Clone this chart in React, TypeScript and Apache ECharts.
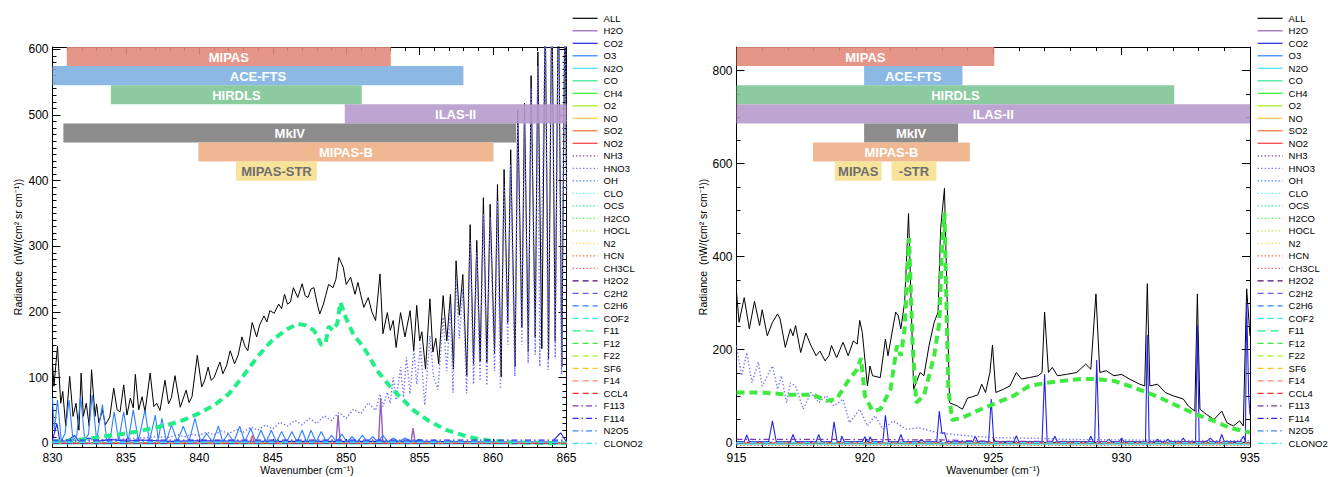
import React, { useEffect, useRef } from "react";
import * as echarts from "echarts";

type Pt = [number, number];

const SPECIES = [
  "ALL", "H2O", "CO2", "O3", "N2O", "CO", "CH4", "O2", "NO", "SO2", "NO2",
  "NH3", "HNO3", "OH", "CLO", "OCS", "H2CO", "HOCL", "N2", "HCN", "CH3CL",
  "H2O2", "C2H2", "C2H6", "COF2", "F11", "F12", "F22", "SF6", "F14", "CCL4",
  "F113", "F114", "N2O5", "CLONO2",
];

const SOLID_COLORS = ["#9460B8", "#2424E6", "#2F80FF", "#3FE3F2", "#33E695", "#2EEE2E", "#A2EE1E", "#FFC848", "#FF6A3C", "#FF3A3A"];
const DOTTED_COLORS = ["#7A34A8", "#6E6EFF", "#2F74FF", "#52F0F0", "#22EE8E", "#4CEE4C", "#B4EE3C", "#FFD468", "#FF5A28", "#FF5858"];
const DASHED_COLORS = ["#4E0A72", "#6262EE", "#2A86FF", "#36EEEE", "#22EE88", "#3EEA3E", "#A8EE24", "#FFC020", "#FF8464", "#FF2A2A"];
const DASHDOT_COLORS = ["#7E3AAA", "#3426EE", "#4486EE", "#36E4F2"];

// ---------- Left panel: 830 - 865 cm-1 ----------
const LEFT_ALL: Pt[] = [
  [830.0, 122], [830.1, 87], [830.34, 148], [830.56, 61], [830.7, 79], [830.9, 26], [831.17, 102], [831.4, 41], [831.6, 61], [831.8, 20],
  [831.95, 107], [832.1, 41], [832.3, 61], [832.5, 26], [832.66, 112], [832.9, 41], [833.0, 60], [833.16, 31], [833.4, 51], [833.6, 28],
  [833.9, 40], [834.17, 84], [834.4, 51], [834.6, 48], [834.85, 89], [835.07, 43], [835.3, 69], [835.5, 54], [835.64, 105], [835.87, 51],
  [836.1, 71], [836.3, 48], [836.65, 107], [836.9, 56], [837.1, 61], [837.32, 50], [837.66, 96], [837.9, 60], [838.1, 70], [838.34, 103],
  [838.7, 55], [839.1, 81], [839.3, 62], [839.5, 71], [839.86, 134], [840.16, 86], [840.35, 95], [840.6, 116], [840.8, 96], [841.0, 100],
  [841.4, 124], [841.6, 106], [841.85, 118], [842.1, 141], [842.4, 121], [842.65, 135], [842.9, 162], [843.1, 148], [843.3, 141], [843.6, 184],
  [843.9, 162], [844.1, 180], [844.4, 194], [844.6, 185], [844.8, 202], [845.1, 198], [845.4, 212], [845.6, 205], [845.8, 227], [846.0, 212],
  [846.2, 215], [846.4, 237], [846.7, 222], [847.0, 243], [847.2, 225], [847.4, 222], [847.6, 235], [847.8, 237], [848.0, 215], [848.2, 197],
  [848.45, 212], [848.6, 225], [848.8, 242], [849.1, 237], [849.3, 250], [849.5, 283], [849.8, 268], [850.0, 242], [850.3, 253], [850.6, 227],
  [850.8, 245], [851.0, 225], [851.2, 207], [851.5, 222], [851.75, 200], [852.0, 187], [852.3, 258], [852.5, 167], [852.8, 199], [853.0, 172],
  [853.2, 187], [853.4, 146], [853.7, 199], [854.0, 162], [854.35, 202], [854.6, 141], [854.8, 210], [855.0, 156], [855.15, 170], [855.4, 113],
  [855.7, 220], [855.9, 139], [856.1, 160], [856.3, 121], [856.6, 225], [856.85, 156], [857.1, 227], [857.3, 113], [857.48, 278], [857.7, 195],
  [857.94, 257], [858.21, 103], [858.44, 333], [858.67, 121], [858.89, 309], [859.12, 124], [859.34, 374], [859.58, 124], [859.8, 364], [860.1, 136],
  [860.3, 394], [860.55, 101], [860.75, 417], [861.0, 184], [861.2, 447], [861.5, 117], [861.68, 507], [861.96, 176], [862.14, 518], [862.4, 139],
  [862.59, 560], [862.87, 161], [863.05, 596], [863.32, 144], [863.55, 660], [863.78, 129], [864.0, 700], [864.23, 156], [864.45, 700], [864.68, 116],
  [864.9, 700], [865.0, 400],
];

const LEFT_HNO3: Pt[] = [
  [830, 3], [832, 5], [834, 6], [836, 8], [837, 10], [838, 9], [838.5, 13], [839, 10], [839.5, 14], [840, 12],
  [840.5, 17], [841, 13], [841.5, 19], [842, 15], [842.5, 21], [843, 17], [843.5, 25], [844, 20], [844.5, 28], [845, 22],
  [845.5, 32], [846, 26], [846.5, 35], [847, 28], [847.5, 38], [848, 30], [848.5, 42], [849, 35], [849.5, 47], [850, 38],
  [850.5, 52], [851, 45], [851.5, 62], [852, 50], [852.3, 75], [852.5, 56], [852.8, 78], [853.0, 61], [853.2, 100], [853.4, 66],
  [853.7, 116], [853.9, 70], [854.1, 131], [854.35, 75], [854.6, 141], [854.8, 90], [855.05, 150], [855.35, 58], [855.7, 164], [855.95, 100],
  [856.25, 82], [856.6, 192], [856.85, 110], [857.1, 210], [857.27, 77], [857.48, 250], [857.7, 160], [857.94, 235], [858.2, 76], [858.44, 310],
  [858.67, 90], [858.89, 290], [859.12, 95], [859.34, 350], [859.58, 88], [859.8, 345], [860.1, 110], [860.3, 370], [860.5, 83], [860.75, 395],
  [861.0, 150], [861.2, 425], [861.48, 102], [861.68, 485], [861.96, 150], [862.14, 495], [862.39, 122], [862.59, 540], [862.87, 135], [863.05, 575],
  [863.18, 117], [863.55, 640], [863.75, 112], [864.0, 680], [864.23, 130], [864.45, 680], [864.66, 105], [864.9, 680], [865, 380],
];

const LEFT_F11: Pt[] = [
  [830, 2], [831, 4], [832, 6], [833, 9], [834, 12], [835, 15], [836, 19], [837, 24], [838, 29], [839, 36],
  [840, 46], [841, 58], [842, 75], [843, 103], [844, 133], [845, 158], [846, 174], [846.7, 182], [847.2, 180], [847.8, 172],
  [848.1, 160], [848.3, 150], [848.6, 153], [848.8, 178], [849.1, 172], [849.4, 183], [849.6, 215], [850.0, 190], [850.5, 165], [851.2, 146],
  [852.1, 111], [853.0, 86], [853.7, 70], [854.6, 50], [855.7, 33], [856.85, 20], [858.0, 12], [859.1, 6], [860.3, 3], [861.4, 1.5],
  [863.7, 0.5], [865, 0],
];

const LEFT_O3: Pt[] = [
  [830, 69], [830.12, 20], [830.34, 66], [830.6, 3], [830.85, 15], [831.13, 66], [831.4, 4], [831.65, 12], [831.92, 71], [832.2, 4],
  [832.45, 14], [832.7, 74], [833.0, 5], [833.4, 59], [833.7, 4], [833.95, 10], [834.2, 48], [834.5, 4], [834.85, 48], [835.15, 3],
  [835.5, 51], [835.85, 4], [836.3, 51], [836.6, 3], [837.0, 43], [837.2, 5], [837.45, 38], [837.75, 3], [838.1, 28], [838.5, 3],
  [838.9, 26], [839.3, 3], [839.7, 38], [840.1, 2], [840.5, 15], [840.9, 2], [841.3, 26], [841.6, 2], [841.96, 15], [842.35, 2],
  [842.75, 26], [843.1, 2], [843.5, 23], [843.85, 2], [844.2, 20], [844.55, 2], [844.9, 20], [845.25, 2], [845.6, 18], [845.95, 2],
  [846.3, 18], [846.65, 2], [847.0, 20], [847.3, 2], [847.6, 20], [847.95, 2], [848.3, 18], [848.65, 2], [849.0, 12], [849.35, 2],
  [849.7, 14], [850.05, 2], [850.4, 10], [850.75, 2], [851.1, 12], [851.45, 2], [851.8, 10], [852.15, 2], [852.5, 12], [852.85, 2],
  [853.2, 8], [853.6, 2], [854.0, 8], [854.5, 2], [855.0, 6], [855.5, 1], [856.0, 5], [856.5, 1], [857.0, 4], [858, 1],
  [860, 1], [865, 1],
];

const LEFT_CO2: Pt[] = [
  [830, 5], [830.3, 30], [830.5, 3], [831, 4], [831.5, 12], [831.8, 3], [832.5, 8], [833, 3], [834, 6], [835, 3],
  [836, 5], [838, 3], [840, 4], [845, 3], [850, 3], [855, 3], [860, 2], [864, 2], [864.6, 16], [865, 2],
];

const LEFT_H2O: Pt[] = [
  [830, 0], [849.3, 0], [849.45, 43], [849.6, 0], [852.2, 0], [852.35, 69], [852.5, 0], [854.4, 0], [854.55, 23], [854.7, 0], [865, 0],
];
const LEFT_NO2: Pt[] = [[830, 0], [843.45, 0], [843.6, 12], [843.75, 0], [865, 0]];
const LEFT_N2O: Pt[] = [[830, -1], [865, -1]];
const LEFT_F114: Pt[] = [[830, 5], [865, 5]];
const LEFT_N2O5: Pt[] = [[830, 3], [865, 3]];
const LEFT_CLONO2: Pt[] = [[830, 1.5], [865, 1.5]];
const LEFT_BASE: Pt[] = [[830, 0], [865, 0]];

// ---------- Right panel: 915 - 935 cm-1 ----------
const RIGHT_ALL: Pt[] = [
  [915.0, 324], [915.1, 259], [915.3, 312], [915.5, 245], [915.7, 304], [915.9, 252], [916.0, 286], [916.2, 230], [916.4, 259], [916.6, 277],
  [916.7, 266], [916.9, 205], [917.1, 245], [917.2, 230], [917.3, 252], [917.5, 194], [917.7, 236], [917.9, 209], [918.1, 187], [918.25, 197],
  [918.45, 176], [918.6, 187], [918.7, 209], [918.9, 183], [919.15, 216], [919.35, 187], [919.55, 219], [919.7, 212], [919.8, 263], [919.9, 237],
  [920.1, 122], [920.2, 165], [920.3, 144], [920.6, 140], [920.8, 223], [920.9, 187], [921.2, 281], [921.3, 273], [921.4, 245], [921.55, 302],
  [921.7, 493], [921.9, 115], [922.15, 151], [922.3, 144], [922.5, 209], [922.7, 259], [922.85, 281], [922.95, 460], [923.1, 547], [923.3, 86],
  [923.6, 79], [923.8, 72], [924.0, 96], [924.2, 99], [924.4, 103], [924.55, 126], [924.7, 108], [924.87, 151], [924.97, 210], [925.1, 108],
  [925.4, 115], [925.65, 122], [925.9, 151], [926.1, 137], [926.4, 140], [926.75, 144], [926.9, 151], [927.0, 281], [927.15, 151], [927.3, 162],
  [927.5, 144], [927.85, 147], [928.25, 151], [928.6, 169], [928.8, 158], [929.0, 320], [929.15, 151], [929.4, 155], [929.7, 144], [930.0, 147],
  [930.3, 137], [930.7, 126], [930.9, 122], [931.0, 342], [931.1, 122], [931.4, 126], [931.7, 108], [932.0, 101], [932.4, 94], [932.6, 79],
  [932.85, 68], [932.95, 320], [933.05, 72], [933.3, 61], [933.6, 50], [933.9, 68], [934.1, 43], [934.35, 36], [934.6, 47], [934.74, 36],
  [934.87, 331], [935.0, 230],
];

const RIGHT_F12: Pt[] = [
  [915.0, 108], [916.0, 108], [917.1, 103], [918.0, 103], [918.5, 90], [918.9, 94], [919.3, 129], [919.7, 158], [919.85, 182], [920.0, 101],
  [920.3, 68], [920.6, 72], [921.0, 115], [921.25, 209], [921.4, 187], [921.55, 245], [921.72, 440], [921.86, 209], [922.0, 86], [922.3, 101],
  [922.7, 187], [922.9, 259], [923.0, 420], [923.1, 495], [923.25, 115], [923.4, 49], [923.8, 54], [924.35, 68], [925.0, 83], [925.8, 101],
  [926.4, 122], [927.1, 129], [927.7, 133], [928.4, 137], [929.0, 137], [929.7, 133], [930.3, 122], [931.0, 108], [931.6, 94], [932.3, 76],
  [932.9, 61], [933.6, 47], [934.2, 32], [935.0, 22],
];

const RIGHT_HNO3: Pt[] = [
  [915, 209], [915.2, 144], [915.4, 194], [915.6, 129], [915.85, 173], [916.0, 122], [916.4, 165], [916.6, 115], [916.75, 144], [916.95, 86],
  [917.1, 129], [917.3, 122], [917.6, 72], [917.9, 108], [918.2, 86], [918.5, 101], [918.8, 79], [919.15, 94], [919.4, 43], [919.8, 72],
  [920.1, 36], [920.4, 58], [920.7, 29], [921.1, 47], [921.6, 29], [922.1, 32], [922.8, 22], [923.4, 18], [924.2, 14], [925.0, 11],
  [926, 10], [927, 9], [928, 7], [930, 6], [932, 5], [935, 4],
];

const RIGHT_CO2: Pt[] = [
  [915, 2], [915.3, 2], [915.4, 17], [915.5, 2], [916.25, 2], [916.4, 47], [916.55, 2], [917.1, 2], [917.2, 18], [917.3, 2],
  [918.1, 2], [918.2, 18], [918.3, 2], [918.7, 2], [918.8, 45], [918.92, 2], [919.05, 2], [919.1, 14], [919.2, 2], [919.9, 2],
  [920.0, 13], [920.1, 2], [920.15, 2], [920.2, 13], [920.3, 2], [920.7, 2], [920.8, 59], [920.92, 2], [921.3, 2], [921.4, 18],
  [921.5, 2], [922.1, 2], [922.2, 7], [922.3, 2], [922.8, 2], [922.9, 68], [923.0, 20], [923.1, 22], [923.2, 2], [924.2, 2],
  [924.3, 14], [924.4, 2], [924.82, 2], [924.92, 94], [925.02, 2], [925.8, 2], [925.9, 15], [926.0, 2], [926.9, 2], [927.0, 147],
  [927.1, 2], [927.3, 2], [927.4, 14], [927.5, 2], [928.7, 2], [928.8, 14], [928.9, 2], [928.95, 2], [929.03, 178], [929.12, 2],
  [929.4, 2], [929.5, 8], [929.6, 2], [929.9, 2], [930.0, 10], [930.1, 2], [930.93, 2], [931.0, 232], [931.07, 2], [931.3, 2],
  [931.4, 8], [931.5, 2], [931.7, 2], [931.8, 8], [931.9, 2], [932.3, 2], [932.4, 10], [932.5, 2], [932.88, 2], [932.95, 253],
  [933.02, 2], [933.3, 2], [933.45, 10], [933.6, 2], [933.8, 2], [933.9, 18], [934.0, 2], [934.6, 2], [934.75, 14], [934.82, 2],
  [934.87, 300], [934.95, 100], [935, 60],
];

const RIGHT_F113: Pt[] = [[915, 7], [919, 7], [923, 6], [925, 3], [935, 2]];
const RIGHT_H2O2: Pt[] = [[915, 1], [922.9, 1], [923.0, 5], [923.1, 1], [924.9, 1], [925.0, 10], [925.1, 1], [935, 1]];
const RIGHT_N2O: Pt[] = [[915, -3], [935, -3]];
const RIGHT_HCN: Pt[] = [[915, -6], [935, -6]];
const RIGHT_BASE: Pt[] = [[915, 0], [935, 0]];

// ---------- Instrument coverage bars ----------
const INSTRUMENTS = ["MIPAS", "ACE-FTS", "HIRDLS", "ILAS-II", "MkIV", "MIPAS-B", "MIPAS-STR"];
const INSTRUMENT_COLORS = ["#E38B7B", "#7EB1E0", "#7FC496", "#B79BCC", "#7F7F7F", "#EEB086", "#F6E08E"];
const INSTRUMENT_TEXT = ["#ffffff", "#ffffff", "#ffffff", "#ffffff", "#ffffff", "#ffffff", "#6E6E6E"];

const LEFT_BAR_LABEL = ["MIPAS", "ACE-FTS", "HIRDLS", "ILAS-II", "MkIV", "MIPAS-B", "MIPAS-STR"];
const LEFT_BAR_INSTR = [0, 1, 2, 3, 4, 5, 6];
const LEFT_BAR_START = [830.97, 829.5, 833.98, 849.9, 830.74, 839.93, 842.5];
const LEFT_BAR_END = [853.04, 857.98, 851.06, 866.0, 861.57, 860.03, 848.0];

const RIGHT_BAR_LABEL = ["MIPAS", "ACE-FTS", "HIRDLS", "ILAS-II", "MkIV", "MIPAS-B", "MIPAS", "-STR"];
const RIGHT_BAR_INSTR = [0, 1, 2, 3, 4, 5, 6, 6];
const RIGHT_BAR_START = [914.5, 919.97, 914.5, 914.5, 919.97, 917.98, 918.83, 921.04];
const RIGHT_BAR_END = [925.04, 923.8, 932.05, 936.0, 923.63, 924.09, 920.65, 922.79];

// ---------- Layout ----------
const FONT = '"Liberation Sans", Arial, Helvetica, sans-serif';
const GRID_TOP = 47;
const GRID_H = 400;
const ROW_H = 19.1;
const LEFT_PANEL = { left: 52.5, width: 514, xmin: 830, xmax: 865, ymin: -5.6, ymax: 603.5, tickMax: 600, tickStep: 100, minorSplit: 10 };
const RIGHT_PANEL = { left: 736.5, width: 513.5, xmin: 915, xmax: 935, ymin: -9.2, ymax: 851, tickMax: 800, tickStep: 200, minorSplit: 4 };

function styleOf(name: string) {
  const i = SPECIES.indexOf(name);
  if (i === 0) return { color: "#000000", type: "solid" as any, width: 1 };
  if (i <= 10) return { color: SOLID_COLORS[i - 1], type: "solid" as any, width: name === "H2O" ? 1.4 : 1.1 };
  if (i <= 20) return { color: DOTTED_COLORS[i - 11], type: [1.3, 2.2] as any, width: name === "HNO3" ? 1.4 : 1.2 };
  if (i <= 30) return { color: DASHED_COLORS[i - 21], type: [6, 4] as any, width: 1.2 };
  return { color: DASHDOT_COLORS[i - 31], type: [6, 3, 1.5, 3] as any, width: 1.2 };
}

const LEFT_DATA: Record<string, Pt[]> = {
  ALL: LEFT_ALL, HNO3: LEFT_HNO3, F11: LEFT_F11, O3: LEFT_O3, CO2: LEFT_CO2, H2O: LEFT_H2O,
  NO2: LEFT_NO2, N2O: LEFT_N2O, F114: LEFT_F114, N2O5: LEFT_N2O5, CLONO2: LEFT_CLONO2,
};
const RIGHT_DATA: Record<string, Pt[]> = {
  ALL: RIGHT_ALL, F12: RIGHT_F12, HNO3: RIGHT_HNO3, CO2: RIGHT_CO2, F113: RIGHT_F113,
  H2O2: RIGHT_H2O2, N2O: RIGHT_N2O, HCN: RIGHT_HCN,
};
const THICK: Record<string, string> = { left: "F11", right: "F12" };

function lineSeries(panel: "left" | "right", xAxisIndex: number, yAxisIndex: number) {
  const dataMap = panel === "left" ? LEFT_DATA : RIGHT_DATA;
  const base = panel === "left" ? LEFT_BASE : RIGHT_BASE;
  return SPECIES.map((name) => {
    const st = styleOf(name);
    const thick = THICK[panel] === name;
    return {
      type: "line",
      name,
      xAxisIndex,
      yAxisIndex,
      data: dataMap[name] || base,
      showSymbol: false,
      symbol: "none",
      silent: true,
      clip: true,
      z: 2,
      lineStyle: {
        color: st.color,
        width: thick ? 4 : st.width,
        type: thick ? [8, 5] : st.type,
      },
      itemStyle: { color: st.color },
    };
  });
}

function barSeries(labels: string[], instr: number[], starts: number[], ends: number[], xAxisIndex: number, yAxisIndex: number) {
  return {
    type: "custom",
    silent: true,
    xAxisIndex,
    yAxisIndex,
    z: 5,
    data: starts.map((s, i) => [s, ends[i], instr[i]]),
    renderItem: (params: any, api: any) => {
      const s = api.value(0);
      const e = api.value(1);
      const row = api.value(2);
      const p0 = api.coord([s, 0]);
      const p1 = api.coord([e, 0]);
      const cs = params.coordSys;
      const y = cs.y + row * ROW_H;
      const rect = echarts.graphic.clipRectByRect(
        { x: p0[0], y, width: p1[0] - p0[0], height: ROW_H },
        { x: cs.x, y: cs.y, width: cs.width, height: cs.height }
      );
      if (!rect) return null;
      const idx = params.dataIndex;
      return {
        type: "group",
        children: [
          { type: "rect", shape: rect, style: { fill: INSTRUMENT_COLORS[row], opacity: 0.9 } },
          {
            type: "text",
            x: rect.x + rect.width / 2,
            y: y + ROW_H / 2 + 0.5,
            style: {
              text: labels[idx],
              fill: INSTRUMENT_TEXT[row],
              font: `bold 13px ${FONT}`,
              align: "center",
              verticalAlign: "middle",
              textAlign: "center",
              textVerticalAlign: "middle",
            },
          },
        ],
      };
    },
  };
}

function pix(p: typeof LEFT_PANEL, v: number) {
  return GRID_TOP + (GRID_H * (p.ymax - v)) / (p.ymax - p.ymin);
}

export default function App() {
  const ref = useRef<HTMLDivElement>(null);
  useEffect(() => {
    if (!ref.current) return;
    const chart = echarts.init(ref.current, undefined, { renderer: "svg" });
    const axisLine = { show: true, onZero: false, lineStyle: { color: "#000", width: 1 } };
    const panels = [LEFT_PANEL, RIGHT_PANEL];

    const grids: any[] = [];
    const xAxes: any[] = [];
    const yAxes: any[] = [];
    panels.forEach((p) => {
      grids.push({ left: p.left, width: p.width, top: GRID_TOP, height: GRID_H, containLabel: false });
    });
    panels.forEach((p) => {
      const t0 = pix(p, p.tickMax);
      const t1 = pix(p, 0);
      grids.push({ left: p.left, width: p.width, top: t0, height: t1 - t0, containLabel: false });
    });

    panels.forEach((p, gi) => {
      ["bottom", "top"].forEach((pos) => {
        xAxes.push({
          type: "value",
          gridIndex: gi,
          position: pos,
          min: p.xmin,
          max: p.xmax,
          interval: 5,
          axisLine,
          axisTick: { show: true, inside: true, length: 8, lineStyle: { color: "#000", width: 1 } },
          minorTick: { show: true, splitNumber: 5, length: 4, lineStyle: { color: "#000", width: 1 } },
          axisLabel: { show: pos === "bottom", color: "#000", fontSize: 12, margin: 5, fontFamily: FONT },
          splitLine: { show: false },
          minorSplitLine: { show: false },
        });
      });
    });
    panels.forEach((p, gi) => {
      xAxes.push({ type: "value", gridIndex: gi + 2, min: 0, max: 1, show: false });
    });

    panels.forEach((p, gi) => {
      ["left", "right"].forEach((pos) => {
        yAxes.push({
          type: "value",
          gridIndex: gi,
          position: pos,
          min: p.ymin,
          max: p.ymax,
          axisLine,
          axisTick: { show: false },
          axisLabel: { show: false },
          splitLine: { show: false },
        });
      });
    });
    panels.forEach((p, gi) => {
      ["left", "right"].forEach((pos) => {
        yAxes.push({
          type: "value",
          gridIndex: gi + 2,
          position: pos,
          min: 0,
          max: p.tickMax,
          interval: p.tickStep,
          axisLine: { show: false },
          axisTick: { show: true, inside: true, length: 8, lineStyle: { color: "#000", width: 1 } },
          minorTick: { show: true, splitNumber: p.minorSplit, length: 4, lineStyle: { color: "#000", width: 1 } },
          axisLabel: { show: pos === "left", color: "#000", fontSize: 12, margin: 4, fontFamily: FONT },
          splitLine: { show: false },
          minorSplitLine: { show: false },
        });
      });
    });

    const legendCommon = {
      data: SPECIES,
      orient: "vertical",
      top: 12.3,
      itemWidth: 25,
      itemHeight: 12,
      itemGap: 0.5,
      padding: 0,
      selectedMode: false,
      itemStyle: { opacity: 0, borderWidth: 0 },
      lineStyle: { width: 1.2 },
      textStyle: { fontSize: 9.5, lineHeight: 12, color: "#000", fontFamily: FONT, padding: [0, 0, 0, 1] },
    };

    const titleFont = `10.5px ${FONT}`;
    chart.setOption({
      animation: false,
      backgroundColor: "#ffffff",
      textStyle: { fontFamily: FONT },
      grid: grids,
      xAxis: xAxes,
      yAxis: yAxes,
      legend: [
        { ...legendCommon, left: 572 },
        { ...legendCommon, left: 1257 },
      ],
      series: [
        ...lineSeries("left", 0, 0),
        barSeries(LEFT_BAR_LABEL, LEFT_BAR_INSTR, LEFT_BAR_START, LEFT_BAR_END, 0, 0),
        ...lineSeries("right", 2, 2),
        barSeries(RIGHT_BAR_LABEL, RIGHT_BAR_INSTR, RIGHT_BAR_START, RIGHT_BAR_END, 2, 2),
      ],
      graphic: [
        { type: "text", x: 18, y: 247, rotation: Math.PI / 2, style: { text: "Radiance  (nW/(cm² sr cm⁻¹))", font: titleFont, fill: "#000", align: "center", verticalAlign: "middle" } },
        { type: "text", x: 703, y: 247, rotation: Math.PI / 2, style: { text: "Radiance  (nW/(cm² sr cm⁻¹))", font: titleFont, fill: "#000", align: "center", verticalAlign: "middle" } },
        { type: "text", x: 307, y: 470, style: { text: "Wavenumber (cm⁻¹)", font: titleFont, fill: "#000", align: "center", verticalAlign: "middle" } },
        { type: "text", x: 993, y: 470, style: { text: "Wavenumber (cm⁻¹)", font: titleFont, fill: "#000", align: "center", verticalAlign: "middle" } },
      ],
    });
    return () => chart.dispose();
  }, []);
  return <div ref={ref} style={{ position: "absolute", left: 0, top: 0, width: 1328, height: 477 }} />;
}
